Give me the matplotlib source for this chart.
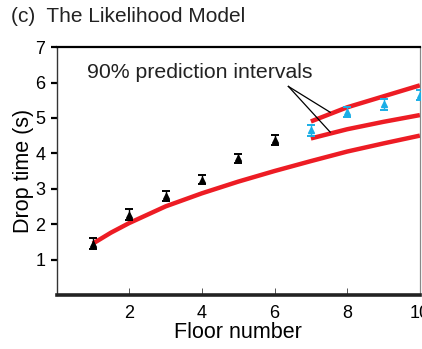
# Drop time vs floor number with the likelihood model fit and prediction intervals

import matplotlib.pyplot as plt

plt.rcParams['font.family'] = ['Liberation Sans', 'DejaVu Sans']

# === Measured drop times ===
floors_fit = [1, 2, 3, 4, 5, 6]
times_fit = [1.45, 2.27, 2.80, 3.26, 3.86, 4.38]
err_fit = [0.15, 0.15, 0.14, 0.14, 0.13, 0.14]

floors_new = [7, 8, 9, 10]
times_new = [4.65, 5.17, 5.38, 5.65]
err_new = [0.16, 0.15, 0.15, 0.15]

# === Model curve ===
model_x = [1, 1.5, 2, 3, 4, 5, 6, 7, 8, 9, 10]
model_y = [1.45, 1.76, 2.03, 2.50, 2.87, 3.20, 3.50, 3.78, 4.05, 4.28, 4.50]

# === 90% prediction intervals ===
pi_x = [7, 8, 9, 10]
pi_upper = [4.90, 5.30, 5.61, 5.92]
pi_lower = [4.42, 4.68, 4.89, 5.08]

red = '#ED1C24'
blue = '#1BAEE6'

fig = plt.figure(figsize=(4.22, 3.49), dpi=100)
ax = fig.add_axes([0.134, 0.155, 0.861, 0.71])

ax.plot(model_x, model_y, color=red, lw=3.2, solid_capstyle='butt', zorder=2)
ax.plot(pi_x, pi_upper, color=red, lw=3.2, solid_capstyle='butt', zorder=2)
ax.plot(pi_x, pi_lower, color=red, lw=3.2, solid_capstyle='butt', zorder=2)

ax.errorbar(floors_fit, times_fit, yerr=err_fit, fmt='^', color='black',
            ms=4.5, capsize=3, elinewidth=1, capthick=1.4, zorder=3)
ax.errorbar(floors_new, times_new, yerr=err_new, fmt='^', color=blue,
            ms=4.5, capsize=3, elinewidth=1, capthick=1.4, zorder=3)

# label with two pointer lines
ax.text(0.84, 6.27, '90% prediction intervals', fontsize=15.3,
        va='center', ha='left', color='#222222')
ax.plot([6.38, 7.53], [5.89, 5.16], color='black', lw=0.9, zorder=4)
ax.plot([6.38, 7.53], [5.89, 4.60], color='black', lw=0.9, zorder=4)

ax.set_xlim(0, 10)
ax.set_ylim(0, 7)
ax.set_xticks([2, 4, 6, 8, 10])
ax.set_yticks([1, 2, 3, 4, 5, 6, 7])
ax.tick_params(axis='x', direction='in', length=5, width=0.7,
               color='#555555', labelsize=13, pad=7)
ax.tick_params(axis='y', direction='out', length=4, width=1.6,
               color='black', labelsize=13, pad=4)

ax.spines['top'].set_linewidth(1.6)
ax.spines['top'].set_color('black')
ax.spines['bottom'].set_linewidth(2.6)
ax.spines['bottom'].set_color('#222222')
ax.spines['left'].set_linewidth(1.0)
ax.spines['left'].set_color('#333333')
ax.spines['right'].set_linewidth(0.9)
ax.spines['right'].set_color('#888888')

ax.set_xlabel('Floor number', fontsize=15.5, labelpad=0)
ax.set_ylabel('Drop time (s)', fontsize=15.5, labelpad=1)

fig.text(0.026, 0.952, '(c)  The Likelihood Model', fontsize=15,
         va='center', ha='left', color='#222222')

fig.savefig('out.png', dpi=100)
